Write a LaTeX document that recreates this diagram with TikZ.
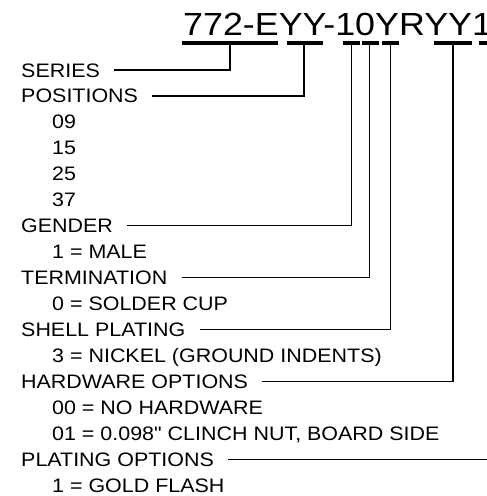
\documentclass[tikz,border=0pt]{standalone}
\usepackage{fontspec}
\setmainfont[FakeStretch=1.1, Ligatures=TeXOff]{Liberation Sans}
\newfontfamily\titlefont[FakeStretch=1.12, Ligatures=TeXOff]{Liberation Sans}
\begin{document}
\begin{tikzpicture}[x=1pt,y=-1pt,
  lbl/.style={anchor=base west, inner sep=0pt, text height=13.8pt, text depth=0pt,
    font=\fontsize{19.5}{23}\selectfont},
  conn/.style={line width=1.3pt},
  bar/.style={line width=4pt}]
\clip (0,0) rectangle (487,496);
\node[anchor=base west, inner sep=0pt, font=\titlefont\fontsize{32}{38}\selectfont] (title) at (183,35) {772-EYY-10YRYY1};
% labels
\def\L{21}\def\I{52}
\node[lbl] (series) at (\L,77.0) {SERIES};
\node[lbl] (pos) at (\L,102.9) {POSITIONS};
\node[lbl] (p09) at (\I,128.9) {09};
\node[lbl] (p15) at (\I,154.8) {15};
\node[lbl] (p25) at (\I,180.8) {25};
\node[lbl] (p37) at (\I,206.7) {37};
\node[lbl] (gender) at (\L,232.6) {GENDER};
\node[lbl] (male) at (\I,258.6) {1 = MALE};
\node[lbl] (term) at (\L,284.5) {TERMINATION};
\node[lbl] (cup) at (\I,310.5) {0 = SOLDER CUP};
\node[lbl] (shell) at (\L,336.4) {SHELL PLATING};
\node[lbl] (nickel) at (\I,362.3) {3 = NICKEL (GROUND INDENTS)};
\node[lbl] (hw) at (\L,388.3) {HARDWARE OPTIONS};
\node[lbl] (nohw) at (\I,414.2) {00 = NO HARDWARE};
\node[lbl] (clinch) at (\I,440.2) {01 = 0.098" CLINCH NUT, BOARD SIDE};
\node[lbl] (plat) at (\L,466.1) {PLATING OPTIONS};
\node[lbl] (gold) at (\I,492.0) {1 = GOLD FLASH};
% underline bars
\draw[bar] (182,43) -- (278,43);
\draw[bar] (287,43) -- (323,43);
\draw[bar] (343,43) -- (360,43);
\draw[bar] (362,43) -- (379,43);
\draw[bar] (382,43) -- (399,43);
\draw[bar] (434,43) -- (472,43);
\draw[bar] (479,43) -- (495,43);
% tick coordinates
\coordinate (tS) at (230,43);
\coordinate (tP) at (304,43);
\coordinate (tG) at (351.5,43);
\coordinate (tT) at (369.5,43);
\coordinate (tSh) at (390.5,43);
\coordinate (tH) at (453,43);
\coordinate (tPl) at (494,43);
% connectors
\draw[conn] ([xshift=14pt]series.east) -- (series.east -| tS) -- (tS);
\draw[conn] ([xshift=14pt]pos.east) -- (pos.east -| tP) -- (tP);
\draw[conn] ([xshift=14pt]gender.east) -- (gender.east -| tG) -- (tG);
\draw[conn] ([xshift=14pt]term.east) -- (term.east -| tT) -- (tT);
\draw[conn] ([xshift=14pt]shell.east) -- (shell.east -| tSh) -- (tSh);
\draw[conn] ([xshift=14pt]hw.east) -- (hw.east -| tH) -- (tH);
\draw[conn] ([xshift=14pt]plat.east) -- (plat.east -| tPl) -- (tPl);
\end{tikzpicture}
\end{document}
